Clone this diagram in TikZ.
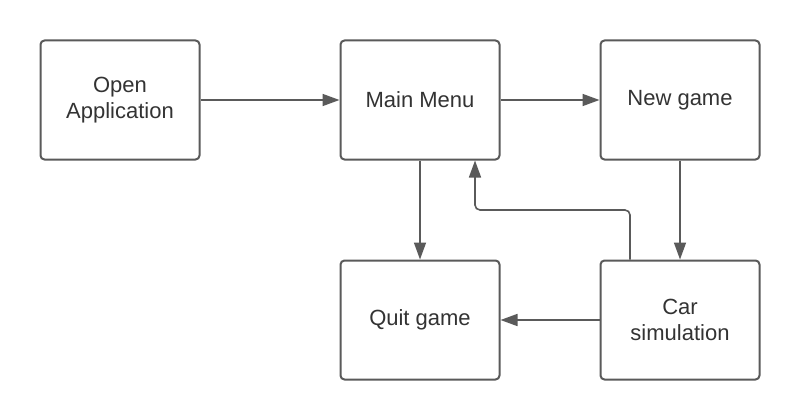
\documentclass[tikz,border=0pt]{standalone}
\usepackage{fontspec}
\setmainfont{Liberation Sans}
\usetikzlibrary{arrows.meta}
\definecolor{edge}{HTML}{5A5A5A}
\definecolor{txt}{HTML}{333333}
\begin{document}
\begin{tikzpicture}[x=1pt,y=-1pt,
  stepbox/.style={draw=edge,line width=2pt,rounded corners=4pt,minimum width=159pt,minimum height=119pt,inner sep=0pt,align=center,text=txt,font=\fontsize{22}{26}\selectfont},
  conn/.style={draw=edge,line width=1.6pt,-{Triangle[length=17pt,width=12pt]},rounded corners=5pt}]
\useasboundingbox (0,0) rectangle (800,420);
\fill[white] (0,0) rectangle (800,420);
\node[stepbox] (open) at (120,100) {Open\\Application};
\node[stepbox] (menu) at (420,100) {Main Menu};
\node[stepbox] (new) at (680,100) {New game};
\node[stepbox] (quit) at (420,320) {Quit game};
\node[stepbox] (car) at (680,320) {Car\\simulation};
\coordinate (c1) at (630,210);
\coordinate (c2) at (475,210);
\draw[conn] (open.east) -- (menu.west);
\draw[conn] (menu.east) -- (new.west);
\draw[conn] (menu.south) -- (quit.north);
\draw[conn] (new.south) -- (car.north);
\draw[conn] (car.west) -- (quit.east);
\draw[conn] (car.north -| c1) -- (c1) -- (c2) -- (c2 |- menu.south);
\end{tikzpicture}
\end{document}
